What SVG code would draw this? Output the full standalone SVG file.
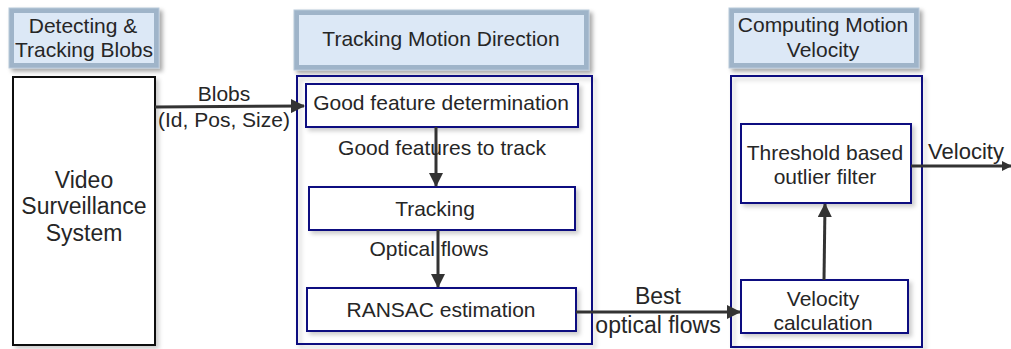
<svg xmlns="http://www.w3.org/2000/svg" width="1011" height="349" viewBox="0 0 1011 349">
<defs>
<style>
text{font-family:"Liberation Sans",Arial,sans-serif;font-size:21px;fill:#262626;text-anchor:middle}
.big{font-size:23px}
.hdrO{fill:#9fb4c9;stroke:#b8c9da;stroke-width:1}
.hdrI{fill:#dce8f6}
.box{fill:#fff;stroke:#101080;stroke-width:2}
.cont{fill:none;stroke:#101080;stroke-width:2}
.con{stroke:#333;stroke-width:3;fill:none}
</style>
<filter id="sh" x="-10%" y="-10%" width="130%" height="130%">
<feDropShadow dx="3" dy="3" stdDeviation="2" flood-color="#000" flood-opacity="0.35"/>
</filter>
<filter id="sh2" x="-10%" y="-10%" width="130%" height="130%">
<feDropShadow dx="3" dy="3" stdDeviation="2" flood-color="#000" flood-opacity="0.2"/>
</filter>
<marker id="ah" markerWidth="10" markerHeight="10" refX="9" refY="5" orient="auto" markerUnits="userSpaceOnUse" viewBox="0 0 10 10">
<path d="M0,0 L10,5 L0,10 z" fill="#333"/>
</marker>
<marker id="ahL" markerWidth="14" markerHeight="14" refX="13" refY="7" orient="auto" markerUnits="userSpaceOnUse" viewBox="0 0 14 14">
<path d="M0,0 L14,7 L0,14 z" fill="#333"/>
</marker>
</defs>
<rect width="1011" height="349" fill="#fff"/>

<g id="hdr-detecting">
<rect class="hdrO" x="9" y="8" width="150" height="60" filter="url(#sh)"/>
<rect class="hdrI" x="14" y="13" width="140" height="50"/>
<text x="83" y="33">Detecting &amp;</text>
<text x="84" y="57">Tracking Blobs</text>
</g>

<g id="hdr-tracking">
<rect class="hdrO" x="294" y="10" width="295" height="60" filter="url(#sh)"/>
<rect class="hdrI" x="299" y="15" width="285" height="50"/>
<text x="441" y="46">Tracking Motion Direction</text>
</g>

<g id="hdr-computing">
<rect class="hdrO" x="729" y="8" width="190" height="60" filter="url(#sh)"/>
<rect class="hdrI" x="734" y="13" width="180" height="50"/>
<text x="823" y="32">Computing Motion</text>
<text x="823" y="57">Velocity</text>
</g>

<g id="video">
<rect x="13" y="77" width="142" height="268" fill="#fff" stroke="#111" stroke-width="2" filter="url(#sh2)"/>
<text class="big" x="84" y="188">Video</text>
<text class="big" x="84" y="214">Surveillance</text>
<text class="big" x="84" y="241">System</text>
</g>

<g id="container-tracking">
<rect class="cont" x="297" y="76" width="295" height="268" filter="url(#sh2)"/>
</g>

<g id="container-computing">
<rect class="cont" x="731" y="76" width="191" height="271" filter="url(#sh2)"/>
</g>

<g id="good-feature">
<rect class="box" x="306" y="84" width="272" height="43" filter="url(#sh2)"/>
<text x="441" y="110">Good feature determination</text>
</g>

<g id="tracking">
<rect class="box" x="309" y="187" width="266" height="43" filter="url(#sh2)"/>
<text x="435" y="216">Tracking</text>
</g>

<g id="ransac">
<rect class="box" x="307" y="288" width="269" height="43" filter="url(#sh2)"/>
<text x="441" y="317">RANSAC estimation</text>
</g>

<g id="threshold">
<rect class="box" x="741" y="124" width="170" height="79" filter="url(#sh2)"/>
<text x="825" y="160">Threshold based</text>
<text x="825" y="184">outlier filter</text>
</g>

<g id="velocity-calc">
<rect class="box" x="741" y="280" width="167" height="53" filter="url(#sh2)"/>
<text x="823" y="306">Velocity</text>
<text x="823" y="330">calculation</text>
</g>

<g id="connectors">
<line class="con" x1="155" y1="107" x2="304" y2="106" marker-end="url(#ahL)"/>
<line class="con" x1="436" y1="127" x2="436" y2="186" marker-end="url(#ahL)"/>
<line class="con" x1="438" y1="230" x2="438" y2="287" marker-end="url(#ahL)"/>
<line class="con" x1="576" y1="312" x2="740" y2="312" marker-end="url(#ahL)"/>
<line class="con" x1="824" y1="280" x2="825" y2="204" marker-end="url(#ahL)"/>
<line class="con" x1="911" y1="166" x2="1011" y2="166" marker-end="url(#ah)"/>
<text x="224" y="101">Blobs</text>
<text x="224" y="127">(Id, Pos, Size)</text>
<text x="442" y="155">Good features to track</text>
<text x="429" y="256">Optical flows</text>
<text class="big" x="658" y="304">Best</text>
<text class="big" x="658" y="333">optical flows</text>
<text style="font-size:22px" x="966" y="159">Velocity</text>
</g>
</svg>
